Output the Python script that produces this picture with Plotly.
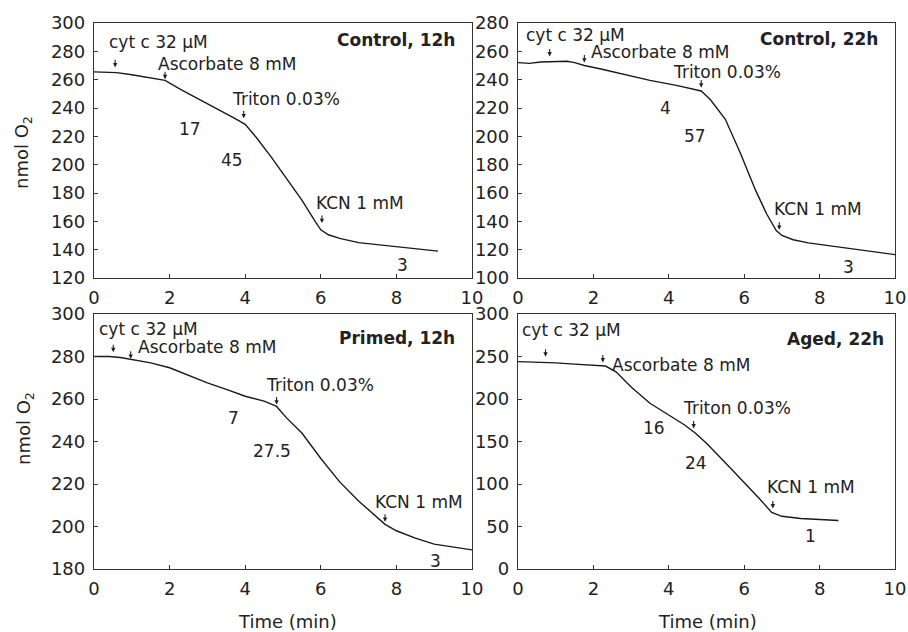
import plotly.graph_objects as go

# ---------------- data ----------------
t_c12 = [0, 0.3, 0.6, 1.0, 1.4, 1.88, 2.3, 2.8, 3.3, 3.7, 4.0, 4.3, 4.7, 5.1, 5.5, 5.85, 6.0, 6.2, 6.5, 7.0, 7.5, 8.0, 8.5, 9.1]
o2_c12 = [265.5, 265.5, 265, 263.5, 261.5, 259.5, 253, 246, 239, 233, 228.5, 219, 205, 190, 175, 160, 154, 150.5, 148, 145, 143.5, 142, 140.5, 139]

t_c22 = [0, 0.3, 0.6, 1.0, 1.3, 1.5, 1.76, 2.2, 2.9, 3.5, 4.2, 4.86, 5.1, 5.5, 5.9, 6.3, 6.6, 6.85, 7.0, 7.3, 7.7, 8.3, 9.0, 10]
o2_c22 = [252, 251.5, 252.5, 253, 253, 252, 250, 247.5, 243, 239.5, 236, 232, 226, 212, 188, 162, 145, 133.5, 130, 127, 124.8, 122.5, 120, 116.5]

t_p12 = [0, 0.4, 0.7, 1.0, 1.5, 2.0, 2.5, 3.0, 3.5, 4.0, 4.5, 4.83, 5.1, 5.5, 6.0, 6.5, 7.0, 7.4, 7.7, 8.0, 8.5, 9.0, 9.5, 10]
o2_p12 = [280, 280, 279.5, 278.5, 277, 274.7, 271, 267.6, 264.5, 261.3, 259, 256.5, 251, 244, 232, 221, 212, 205.5, 201, 198, 194.5, 191.7, 190.2, 189]

t_a22 = [0, 0.5, 1.0, 1.5, 2.0, 2.32, 2.6, 3.0, 3.5, 4.0, 4.4, 4.7, 5.0, 5.5, 6.0, 6.4, 6.73, 7.0, 7.5, 8.0, 8.5]
o2_a22 = [244, 243.5, 242.5, 241, 240, 238.8, 232, 214, 195, 181, 170, 160, 148, 125, 102, 83, 66.5, 62, 59.5, 58, 57]

panel_titles = ["Control, 12h", "Control, 22h", "Primed, 12h", "Aged, 22h"]
rates_c12 = ["17", "45", "3"]
rates_c22 = ["4", "57", "3"]
rates_p12 = ["7", "27.5", "3"]
rates_a22 = ["16", "24", "1"]
additions = ["cyt c 32 μM", "Ascorbate 8 mM", "Triton 0.03%", "KCN 1 mM"]

y_ranges = [[120, 300], [100, 280], [180, 300], [0, 300]]
y_dticks = [20, 20, 20, 50]

# ---------------- figure ----------------
W, H = 908, 632
FONT = "DejaVu Sans"
INK = "#222222"

fig = go.Figure()
series = [(t_c12, o2_c12), (t_c22, o2_c22), (t_p12, o2_p12), (t_a22, o2_a22)]
for i, (tx, vy) in enumerate(series):
    sfx = "" if i == 0 else str(i + 1)
    fig.add_trace(go.Scatter(x=tx, y=vy, mode="lines", xaxis="x" + sfx, yaxis="y" + sfx,
                             line=dict(color="#1a1a1a", width=1.4), showlegend=False,
                             hoverinfo="skip"))

xdoms = [[94 / W, 472 / W], [518 / W, 895 / W], [94 / W, 472 / W], [518 / W, 895 / W]]
ydoms = [[1 - 278 / H, 1 - 23 / H], [1 - 278 / H, 1 - 23 / H],
         [1 - 569 / H, 1 - 314 / H], [1 - 569 / H, 1 - 314 / H]]

axis_common = dict(showline=True, linecolor="#333333", linewidth=1.3, mirror=True,
                   ticks="inside", ticklen=4, tickwidth=1, tickcolor="#333333",
                   showgrid=False, zeroline=False, automargin=False,
                   tickfont=dict(family=FONT, size=18, color=INK))

layout = {}
for i in range(4):
    sfx = "" if i == 0 else str(i + 1)
    layout["xaxis" + sfx] = dict(domain=xdoms[i], anchor="y" + sfx, range=[0, 10], dtick=2,
                                 tick0=0, ticklabelstandoff=3, **axis_common)
    layout["yaxis" + sfx] = dict(domain=ydoms[i], anchor="x" + sfx, range=y_ranges[i],
                                 dtick=y_dticks[i], tick0=0, ticklabelstandoff=4, **axis_common)

fig.update_layout(width=W, height=H, margin=dict(l=0, r=0, t=0, b=0, autoexpand=False),
                  paper_bgcolor="white", plot_bgcolor="white",
                  font=dict(family=FONT, size=17, color=INK), **layout)

ann = []


def label(panel, text, x, y, xanchor="left", bold=False, size=17):
    sfx = "" if panel == 0 else str(panel + 1)
    ann.append(dict(x=x, y=y, xref="x" + sfx, yref="y" + sfx, text=("<b>%s</b>" % text) if bold else text,
                    showarrow=False, xanchor=xanchor, yanchor="middle",
                    font=dict(family=FONT, size=size, color=INK)))


def arrow(panel, x, y):
    sfx = "" if panel == 0 else str(panel + 1)
    ann.append(dict(x=x, y=y, xref="x" + sfx, yref="y" + sfx, text="", showarrow=True,
                    ax=0, ay=-9, arrowhead=2, arrowsize=0.8, arrowwidth=1.1,
                    arrowcolor="#222222", standoff=0))


# Panel 1: Control 12h
label(0, additions[0], 0.34, 286.4)
arrow(0, 0.56, 268.7)
label(0, additions[1], 1.64, 270.8)
arrow(0, 1.88, 260.3)
label(0, additions[2], 3.60, 246.1)
arrow(0, 3.96, 232.7)
label(0, additions[3], 5.82, 173.1)
arrow(0, 6.03, 158.8)
label(0, rates_c12[0], 2.54, 225.4, "center")
label(0, rates_c12[1], 3.66, 203.1, "center")
label(0, rates_c12[2], 8.16, 129, "center")
label(0, panel_titles[0], 9.61, 287.8, "right", bold=True)

# Panel 2: Control 22h
label(1, additions[0], 0.16, 271.6)
arrow(1, 0.84, 256.4)
label(1, additions[1], 1.89, 259.2)
arrow(1, 1.76, 252.1)
label(1, additions[2], 4.06, 245.6)
arrow(1, 4.86, 234.4)
label(1, additions[3], 6.74, 148.9)
arrow(1, 6.93, 134)
label(1, rates_c22[0], 3.90, 220.2, "center")
label(1, rates_c22[1], 4.69, 200.1, "center")
label(1, rates_c22[2], 8.77, 108, "center")
label(1, panel_titles[1], 9.61, 268.7, "right", bold=True)

# Panel 3: Primed 12h
label(2, additions[0], 0.09, 293.1)
arrow(2, 0.51, 282)
label(2, additions[1], 1.10, 284.4)
arrow(2, 0.97, 278.9)
label(2, additions[2], 4.50, 266.4)
arrow(2, 4.83, 257.4)
label(2, additions[3], 7.39, 211.7)
arrow(2, 7.70, 202.2)
label(2, rates_p12[0], 3.68, 251.2, "center")
label(2, rates_p12[1], 4.72, 235.5, "center")
label(2, rates_p12[2], 9.04, 183.9, "center")
label(2, panel_titles[2], 9.61, 288.7, "right", bold=True)

# Panel 4: Aged 22h
label(3, additions[0], 0.06, 281.3)
arrow(3, 0.73, 249.8)
label(3, additions[1], 2.45, 240.1)
arrow(3, 2.25, 243)
label(3, additions[2], 4.33, 189.2)
arrow(3, 4.66, 165.4)
label(3, additions[3], 6.54, 97)
arrow(3, 6.76, 71.3)
label(3, rates_a22[0], 3.60, 165.4, "center")
label(3, rates_a22[1], 4.71, 124.3, "center")
label(3, rates_a22[2], 7.76, 39.2, "center")
label(3, panel_titles[3], 9.75, 270.6, "right", bold=True)

# axis titles
for (px, py) in [(23, 153), (25, 429)]:
    ann.append(dict(x=px / W, y=1 - py / H, xref="paper", yref="paper", text="nmol O<sub>2</sub>",
                    textangle=-90, showarrow=False, xanchor="center", yanchor="middle",
                    font=dict(family=FONT, size=18, color=INK)))
for (px, py) in [(287.5, 621), (707.5, 621)]:
    ann.append(dict(x=px / W, y=1 - py / H, xref="paper", yref="paper", text="Time (min)",
                    showarrow=False, xanchor="center", yanchor="middle",
                    font=dict(family=FONT, size=18, color=INK)))

fig.update_layout(annotations=ann)
fig.write_html("out.html", config={"displayModeBar": False},
               post_script="document.body.style.margin='0';document.body.style.padding='0';"
                           "document.body.style.overflow='hidden';")
